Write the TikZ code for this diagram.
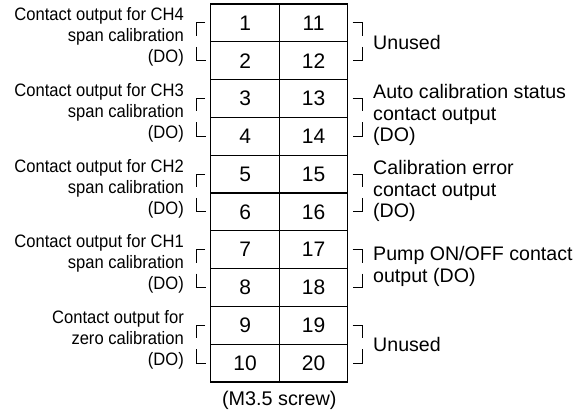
\documentclass[tikz,border=0pt]{standalone}
\usepackage{fontspec}
\setmainfont{Liberation Sans}
\newfontfamily\narrowfont[FakeStretch=0.92]{Liberation Sans}
\begin{document}
\begin{tikzpicture}[x=1pt,y=-1pt,
  cell/.style={draw, line width=1.2pt, minimum width=68.5pt, minimum height=37.8pt, inner sep=0pt, font=\fontsize{21}{21}\selectfont},
  ltext/.style={anchor=east, align=right, inner sep=0pt, font=\narrowfont\fontsize{18}{21}\selectfont},
  rtext/.style={anchor=west, align=left, inner sep=0pt, font=\fontsize{19.6}{21.5}\selectfont},
  brk/.style={line width=1pt}]
\useasboundingbox (0,0) rectangle (584,414);
% terminal cells
\foreach \i in {1,...,10}{
  \pgfmathsetmacro{\yc}{4+37.8*(\i-0.5)}
  \pgfmathtruncatemacro{\j}{\i+10}
  \node[cell] (L\i) at (245.1,\yc) {\i};
  \node[cell] (R\i) at (313.6,\yc) {\j};
}
% brackets
\foreach \k in {1,...,5}{
  \pgfmathsetmacro{\ya}{4+37.8*(2*\k-1.5)}
  \pgfmathsetmacro{\yb}{4+37.8*(2*\k-0.5)}
  \pgfmathsetmacro{\yB}{4+37.8*(2*\k-1)}
  \draw[brk] (205,\ya) -- (196,\ya) -- (196,\yB-6);
  \draw[brk] (196,\yB+5) -- (196,\yb) -- (205.5,\yb);
  \draw[brk] (352.7,\ya) -- (362,\ya) -- (362,\yB-6);
  \draw[brk] (362,\yB+5) -- (362,\yb) -- (352.7,\yb);
}
% left labels
\node[ltext] (lt1) at (184,37.3) {Contact output for CH4\\span calibration\\(DO)};
\node[ltext] (lt2) at (184,112.9) {Contact output for CH3\\span calibration\\(DO)};
\node[ltext] (lt3) at (184,188.5) {Contact output for CH2\\span calibration\\(DO)};
\node[ltext] (lt4) at (184,264.1) {Contact output for CH1\\span calibration\\(DO)};
\node[ltext] (lt5) at (184,339.7) {Contact output for\\zero calibration\\(DO)};
% right labels
\node[rtext] (rt1) at (373,42.3) {Unused};
\node[rtext] (rt2) at (373,115.4) {Auto calibration status\\contact output\\(DO)};
\node[rtext] (rt3) at (373,191) {Calibration error\\contact output\\(DO)};
\node[rtext] (rt4) at (373,266.6) {Pump ON/OFF contact\\output (DO)};
\node[rtext] (rt5) at (373,344.7) {Unused};
% screw note
\node[inner sep=0pt, font=\fontsize{19.8}{20}\selectfont] (scr) at (279.3,400) {(M3.5 screw)};
\end{tikzpicture}
\end{document}
